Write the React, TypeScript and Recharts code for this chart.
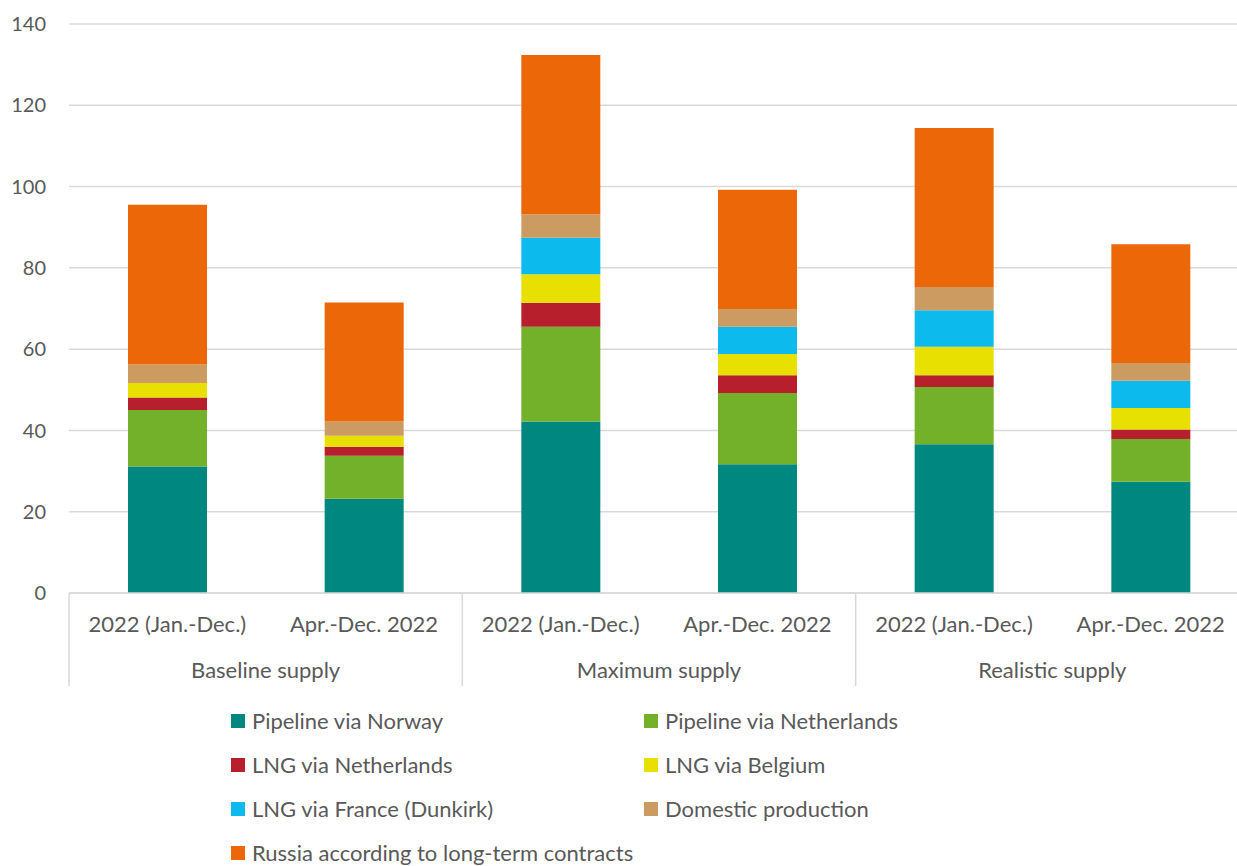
import React from 'react';
import { BarChart, Bar, XAxis, YAxis, CartesianGrid } from 'recharts';

// x-axis labels
const PERIODS = [
  '2022 (Jan.-Dec.)',
  'Apr.-Dec. 2022',
  '2022 (Jan.-Dec.)',
  'Apr.-Dec. 2022',
  '2022 (Jan.-Dec.)',
  'Apr.-Dec. 2022',
];
const GROUPS = ['Baseline supply', 'Maximum supply', 'Realistic supply'];
const Y_TICKS = [0, 20, 40, 60, 80, 100, 120, 140];

// series values
const NORWAY = [31.1, 23.2, 42.2, 31.7, 36.6, 27.4];
const NL_PIPE = [13.9, 10.6, 23.3, 17.5, 14.1, 10.5];
const LNG_NL = [3.1, 2.2, 5.9, 4.4, 2.9, 2.3];
const LNG_BE = [3.6, 2.7, 7.0, 5.2, 7.0, 5.3];
const LNG_FR = [0, 0, 9.0, 6.7, 9.0, 6.7];
const DOMESTIC = [4.5, 3.5, 5.8, 4.4, 5.7, 4.4];
const RUSSIA = [39.3, 29.3, 39.2, 29.3, 39.1, 29.2];

const SERIES = [
  { key: 'norway', name: 'Pipeline via Norway', color: '#00877F', values: NORWAY },
  { key: 'nlPipe', name: 'Pipeline via Netherlands', color: '#73B12A', values: NL_PIPE },
  { key: 'lngNl', name: 'LNG via Netherlands', color: '#B71F2C', values: LNG_NL },
  { key: 'lngBe', name: 'LNG via Belgium', color: '#E8E000', values: LNG_BE },
  { key: 'lngFr', name: 'LNG via France (Dunkirk)', color: '#0DBAEE', values: LNG_FR },
  { key: 'domestic', name: 'Domestic production', color: '#CC9B62', values: DOMESTIC },
  { key: 'russia', name: 'Russia according to long-term contracts', color: '#EC6708', values: RUSSIA },
];

const data = PERIODS.map((period, i) => {
  const row: Record<string, string | number> = { period, group: GROUPS[Math.floor(i / 2)] };
  SERIES.forEach((s) => {
    row[s.key] = s.values[i];
  });
  return row;
});

const CHART_W = 1249;
const CHART_H = 693;
const Y_AXIS_W = 69;
const PLOT_W = CHART_W - Y_AXIS_W;
const HALF_BAND = PLOT_W / PERIODS.length / 2;
const TEXT = '#595959';
const GRID = '#d9d9d9';
const X_FONT = 22;

// category label + group label + group separators
const PeriodTick = (props: any) => {
  const { x, y, index, payload } = props;
  return (
    <g>
      <text x={x} y={y + 30} textAnchor="middle" dominantBaseline="central" fill={TEXT} fontSize={X_FONT}>
        {payload.value}
      </text>
      {index % 2 === 0 && (
        <>
          <line x1={x - HALF_BAND} x2={x - HALF_BAND} y1={y} y2={y + 93} stroke={GRID} strokeWidth={1.5} />
          <text x={x + HALF_BAND} y={y + 76} textAnchor="middle" dominantBaseline="central" fill={TEXT} fontSize={X_FONT}>
            {data[index].group}
          </text>
        </>
      )}
      {index === PERIODS.length - 1 && (
        <line x1={x + HALF_BAND} x2={x + HALF_BAND} y1={y} y2={y + 93} stroke={GRID} strokeWidth={1.5} />
      )}
    </g>
  );
};

export default function App() {
  return (
    <div
      style={{
        position: 'absolute',
        left: 0,
        top: 0,
        width: 1237,
        height: 866,
        overflow: 'hidden',
        background: '#fff',
        fontFamily: 'Lato, "Open Sans", sans-serif',
      }}
    >
      <BarChart
        width={CHART_W}
        height={CHART_H}
        data={data}
        margin={{ top: 24, right: 0, left: 0, bottom: 0 }}
        barCategoryGap="30%"
      >
        <CartesianGrid vertical={false} stroke={GRID} strokeWidth={1.5} />
        <XAxis
          dataKey="period"
          interval={0}
          height={100}
          tickLine={false}
          tickSize={0}
          tickMargin={0}
          axisLine={{ stroke: GRID, strokeWidth: 1.5 }}
          tick={<PeriodTick />}
        />
        <YAxis
          width={Y_AXIS_W}
          domain={[0, 140]}
          ticks={Y_TICKS}
          tickLine={false}
          axisLine={false}
          tickSize={0}
          tickMargin={23}
          tick={{ fill: TEXT, fontSize: 20 }}
        />
        {SERIES.map((s) => (
          <Bar key={s.key} dataKey={s.key} name={s.name} stackId="supply" fill={s.color} isAnimationActive={false} />
        ))}
      </BarChart>

      {/* legend: two columns */}
      <div
        style={{
          position: 'absolute',
          left: 231,
          top: 708,
          display: 'grid',
          gridTemplateColumns: '413px 300px',
          rowGap: 18,
          fontSize: X_FONT,
          color: TEXT,
          lineHeight: '26px',
        }}
      >
        {SERIES.map((s) => (
          <div key={s.key} style={{ display: 'flex', alignItems: 'center', whiteSpace: 'nowrap' }}>
            <span
              style={{ width: 14, height: 14, background: s.color, marginRight: 7, flexShrink: 0, display: 'inline-block' }}
            />
            {s.name}
          </div>
        ))}
      </div>
    </div>
  );
}
